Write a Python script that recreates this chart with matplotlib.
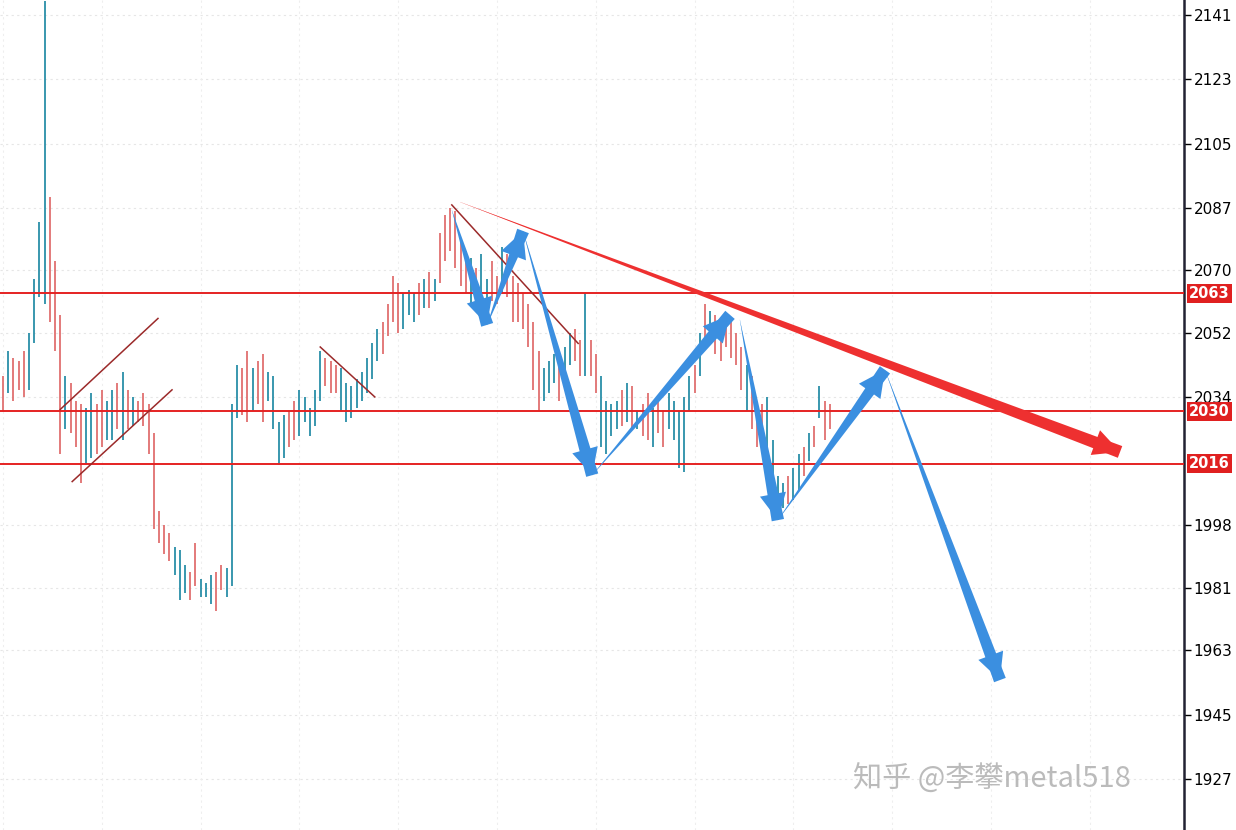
import matplotlib
matplotlib.use("Agg")
import matplotlib.pyplot as plt
from matplotlib.patches import FancyArrowPatch

highs = [2040,2047,2045,2044,2047,2052,2067,2083,2145,2090,2072,2057,2040,2038,2033,2032,2031,2035,2032,2036,
         2033,2036,2038,2041,2036,2034,2033,2035,2032,2024,2002,1998,1996,1992,1991,1987,1985,1993,1983,1982,
         1984,1985,1987,1986,2032,2043,2042,2047,2042,2044,2046,2041,2040,2027,2029,2030,2033,2036,2034,2031,
         2036,2047,2045,2044,2043,2042,2038,2037,2039,2041,2045,2049,2053,2055,2060,2068,2066,2063,2064,2063,
         2066,2067,2069,2067,2080,2085,2087,2086,2078,2075,2073,2070,2074,2067,2072,2068,2076,2074,2068,2066,
         2063,2060,2055,2047,2042,2044,2046,2047,2048,2052,2053,2050,2063,2050,2046,2040,2033,2032,2033,2036,
         2038,2037,2030,2032,2035,2031,2034,2030,2035,2033,2030,2034,2040,2043,2052,2060,2058,2057,2055,2057,
         2055,2052,2048,2043,2040,2030,2032,2034,2022,2012,2010,2012,2014,2018,2020,2024,2026,2037,2033,2032]
lows = [2030,2035,2033,2036,2034,2036,2049,2062,2060,2055,2047,2018,2025,2024,2020,2010,2015,2017,2018,2020,
        2022,2022,2025,2022,2025,2026,2027,2026,2018,1997,1993,1990,1988,1984,1977,1979,1977,1981,1978,1978,
        1976,1974,1980,1978,1981,2028,2029,2027,2030,2032,2027,2033,2025,2015,2017,2020,2022,2023,2027,2023,
        2026,2033,2037,2035,2035,2030,2027,2028,2031,2033,2035,2039,2044,2046,2051,2055,2052,2053,2057,2055,
        2057,2059,2059,2061,2066,2072,2075,2070,2065,2063,2060,2058,2060,2058,2061,2060,2063,2062,2055,2055,
        2053,2048,2036,2030,2033,2035,2038,2033,2040,2043,2044,2040,2040,2040,2035,2020,2018,2023,2025,2026,
        2027,2025,2025,2023,2022,2020,2024,2020,2025,2022,2014,2013,2030,2035,2040,2048,2050,2046,2044,2048,
        2045,2043,2036,2030,2025,2020,2022,2012,2003,2000,2003,2004,2005,2008,2012,2016,2020,2028,2022,2025]
direction = ("duddduuuuddduddduud"
             "duudududdddddduuudd"
             "uuudduuuddudduuuudd"
             "uuuuuddduuuuuuuudddd"
             "uuudududddddduduuddu"
             "ddddddduuuduuddudduu"
             "uudududdudduuuuududu"
             "dddddduddduuuuduudu")
levels = [2063, 2030, 2015.3]
level_labels = ["2063", "2030", "2016"]
tick_vals = [2141, 2123, 2105, 2087, 2069.5, 2052, 2034, 1998, 1980.5, 1963, 1945, 1927]
tick_labels = ["2141", "2123", "2105", "2087", "2070", "2052", "2034", "1998", "1981", "1963", "1945", "1927"]

BLUE_BAR = "#2a8fa8"
RED_BAR = "#e07070"

fig = plt.figure(figsize=(12.36, 8.3), dpi=100)
ax = fig.add_axes([0, 0, 1184/1236, 1])
ax.set_xlim(-0.58, 227.1)
ax.set_ylim(1912.7, 2145.2)
ax.set_facecolor("white")

xs = list(range(len(highs)))
cols = [BLUE_BAR if d == "u" else RED_BAR for d in direction[:len(highs)]]
ax.vlines(xs, lows, highs, colors=cols, lw=1.3)

for v in tick_vals:
    ax.axhline(v, color="#e6e6e6", lw=0.8, ls=(0, (2, 3)), zorder=0)
for gx in range(0, 228, 19):
    ax.axvline(gx, color="#eeeeee", lw=0.8, ls=(0, (2, 3)), zorder=0)

for lv, lb in zip(levels, level_labels):
    ax.axhline(lv, color="#e52222", lw=1.4, zorder=3)
    ax.text(1.004, lv, lb, transform=ax.get_yaxis_transform(), color="white", fontsize=10.5,
            fontweight="bold", va="center", ha="left",
            bbox=dict(boxstyle="square,pad=0.15", fc="#e02020", ec="none"), clip_on=False, zorder=5)

for (x0, y0, x1, y1) in [(11, 2030.5, 29.8, 2056), (13.3, 2010.3, 32.5, 2036),
                         (61, 2048, 71.5, 2034), (86.3, 2087.8, 110.6, 2049)]:
    ax.plot([x0, x1], [y0, y1], color="#9b2a2a", lw=1.1, zorder=4)

def tapered(p0, p1, color, width, head):
    ax.add_patch(FancyArrowPatch(p1, p0, arrowstyle=f"wedge,tail_width={width},shrink_factor=0.5",
                 mutation_scale=10, color=color, lw=0, zorder=7, shrinkA=0, shrinkB=0))
    ax.add_patch(FancyArrowPatch(p0, p1,
                 arrowstyle=f"simple,head_length={head},head_width={head},tail_width=0.01",
                 mutation_scale=10, color=color, lw=0, zorder=7, shrinkA=0, shrinkB=0))

tapered((87.9, 2088.6), (214.8, 2018.6), "#ee3030", 0.9, 1.9)

AB = "#3b8fe0"
arrows = [((86.3, 2086.4), (93.1, 2054.2)), ((93.1, 2054.2), (100, 2080.5)),
          ((100, 2080.5), (113.3, 2012.1)), ((113.3, 2012.1), (139.8, 2057)),
          ((141.7, 2055.6), (149, 1999.5)), ((149, 1999.5), (169.6, 2041.6)),
          ((169.6, 2041.6), (191.7, 1954.7))]
for p0, p1 in arrows:
    tapered(p0, p1, AB, 0.9, 1.9)

ax.yaxis.tick_right()
ax.set_yticks(tick_vals)
ax.set_yticklabels(tick_labels, fontsize=11)
ax.tick_params(axis="y", direction="out", length=5, width=1, pad=2)
ax.set_xticks([])
for s in ["top", "left", "bottom"]:
    ax.spines[s].set_visible(False)
ax.spines["right"].set_linewidth(1.8)
ax.spines["right"].set_color("#222233")

fig.text(853/1236, 1 - 780/830, "知乎 @李攀metal518", fontsize=21, color="#b0b0b0", alpha=0.85,
         family=["Noto Sans CJK SC", "DejaVu Sans"], va="center", ha="left", zorder=10)

fig.savefig("out.png", dpi=100, facecolor="white")
